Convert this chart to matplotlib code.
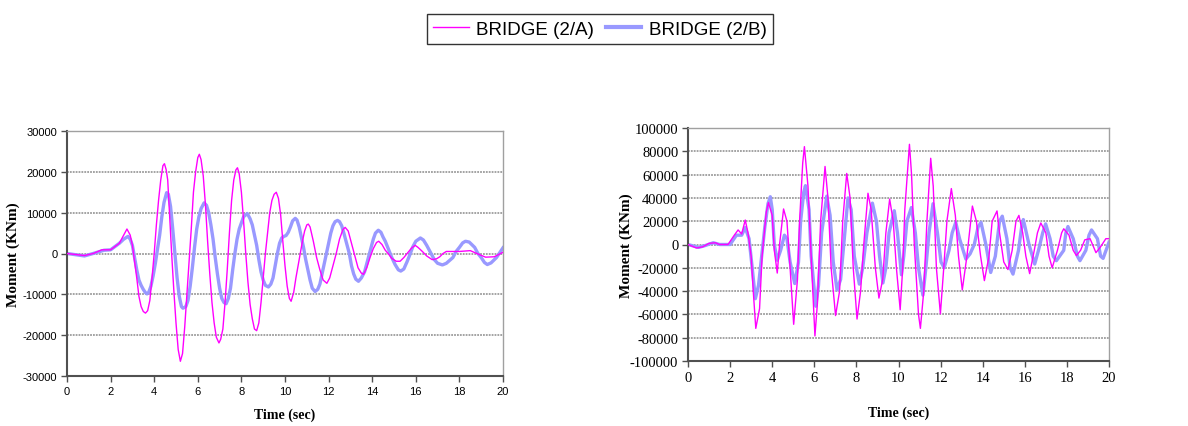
import matplotlib
matplotlib.use('Agg')
import matplotlib.pyplot as plt

plt.rcParams['axes.unicode_minus'] = False

# ---- left chart: moment history, bridge 2/A and 2/B ----
t_a1 = [0, 0.8, 1.2, 1.6, 2.0, 2.4, 2.6, 2.75, 2.9, 3.0, 3.1, 3.2, 3.3, 3.4, 3.5, 3.6, 3.7, 3.8,
        3.9, 4.0, 4.1, 4.2, 4.3, 4.4, 4.47, 4.55, 4.62, 4.7, 4.8, 4.9, 5.0, 5.1, 5.2, 5.3, 5.4,
        5.5, 5.6, 5.7, 5.8, 5.9, 6.0, 6.07, 6.15, 6.25, 6.35, 6.45, 6.55, 6.65, 6.75, 6.85, 6.97,
        7.05, 7.15, 7.25, 7.35, 7.45, 7.55, 7.65, 7.75, 7.82, 7.9, 8.0, 8.1, 8.2, 8.3, 8.4, 8.5,
        8.6, 8.7, 8.8, 8.9, 9.0, 9.1, 9.2, 9.3, 9.4, 9.5, 9.6, 9.7, 9.8, 9.9, 10.0, 10.1, 10.2,
        10.28, 10.4, 10.5, 10.6, 10.7, 10.8, 10.9, 11.0, 11.07, 11.15, 11.3, 11.45, 11.6, 11.75,
        11.92, 12.05, 12.2, 12.35, 12.5, 12.65, 12.76, 12.9, 13.05, 13.22, 13.35, 13.5, 13.6,
        13.75, 13.9, 14.05, 14.2, 14.3, 14.45, 14.6, 14.73, 14.9, 15.1, 15.28, 15.45, 15.6, 15.8,
        15.97, 16.1, 16.3, 16.5, 16.75, 16.95, 17.1, 17.25, 17.4, 18.0, 18.5, 18.8, 19.2, 19.6,
        20.0]
m_a1 = [0, -500, 0, 900, 900, 2500, 4500, 6000, 4500, 2000, -2000, -6000, -10500, -13000, -14200,
        -14600, -14000, -11500, -6000, 0, 7000, 13000, 18000, 21500, 22000, 20500, 18000, 10000,
        0, -9000, -17000, -23500, -26400, -24500, -18000, -10000, -2000, 6000, 15000, 20000,
        23500, 24300, 23000, 19000, 12000, 3000, -5000, -12000, -17000, -20500, -21900, -21000,
        -18500, -12000, -4000, 5000, 13000, 18000, 20500, 21000, 19500, 15000, 8000, 0, -7000,
        -12500, -16000, -18500, -18900, -17000, -12000, -6000, 0, 5000, 10000, 13000, 14500,
        15000, 13500, 9500, 3000, -3000, -8000, -11000, -11700, -9500, -6000, -3000, 0, 3000,
        5500, 7000, 7200, 6500, 3000, -1000, -4000, -6500, -7300, -6000, -3000, 0, 3500, 5800,
        6400, 5500, 2500, -1000, -3500, -4800, -5100, -3500, -1000, 1200, 2700, 3000, 2200, 800,
        0, -1200, -1900, -1900, -1000, 0, 1300, 2000, 1500, 500, -600, -1500, -1300, -800, 0,
        500, 500, 700, 0, -900, -800, 300]

t_b1 = [0, 0.8, 1.2, 1.7, 2.0, 2.4, 2.6, 2.8, 2.9, 3.0, 3.1, 3.2, 3.3, 3.4, 3.5, 3.6, 3.67, 3.75,
        3.85, 3.95, 4.05, 4.15, 4.25, 4.35, 4.45, 4.57, 4.65, 4.75, 4.85, 4.95, 5.05, 5.15, 5.25,
        5.32, 5.45, 5.55, 5.65, 5.75, 5.85, 5.95, 6.05, 6.15, 6.29, 6.4, 6.5, 6.6, 6.7, 6.8, 6.9,
        7.0, 7.1, 7.2, 7.3, 7.4, 7.5, 7.6, 7.7, 7.8, 7.9, 8.0, 8.1, 8.27, 8.4, 8.5, 8.6, 8.7, 8.8,
        8.9, 9.0, 9.1, 9.24, 9.35, 9.45, 9.55, 9.65, 9.75, 9.85, 9.95, 10.05, 10.15, 10.25, 10.35,
        10.47, 10.55, 10.65, 10.75, 10.85, 10.95, 11.05, 11.15, 11.25, 11.38, 11.5, 11.6, 11.7,
        11.8, 11.9, 12.0, 12.1, 12.2, 12.3, 12.41, 12.5, 12.6, 12.7, 12.8, 12.95, 13.05, 13.15,
        13.25, 13.37, 13.5, 13.65, 13.8, 13.95, 14.05, 14.15, 14.28, 14.4, 14.5, 14.6, 14.75, 14.9,
        15.05, 15.2, 15.31, 15.45, 15.6, 15.75, 15.85, 16.0, 16.21, 16.35, 16.5, 16.65, 16.85,
        17.0, 17.22, 17.4, 17.55, 17.7, 17.85, 18.0, 18.15, 18.28, 18.45, 18.6, 18.7, 18.85, 19.0,
        19.15, 19.28, 19.45, 19.6, 19.7, 19.85, 20.0]
m_b1 = [0, -600, 0, 800, 900, 2500, 3500, 4200, 3500, 2000, -1000, -4000, -6500, -7800, -8800,
        -9600, -9900, -9500, -8000, -5500, -2500, 1000, 4500, 9000, 12500, 14900, 14500, 11500,
        6000, 0, -6000, -10500, -13000, -13400, -13000, -11500, -8000, -3500, 1500, 6000, 9000,
        11000, 12400, 11800, 10000, 7000, 3500, -1000, -5000, -8500, -11000, -12000, -12300,
        -11000, -8500, -4000, 0, 3500, 6000, 7500, 9000, 9800, 8500, 7000, 4500, 2000, -1500,
        -4500, -6500, -7800, -8200, -7500, -6000, -3000, 0, 2500, 3800, 4200, 4400, 5200, 6500,
        8000, 8600, 8200, 6500, 4000, 1500, -1500, -4000, -6500, -8500, -9300, -8800, -7500,
        -5000, -2500, 0, 2500, 5000, 6800, 7800, 8100, 7800, 6800, 5000, 3000, 0, -3000, -5000,
        -6300, -6800, -6000, -4500, -1500, 1500, 3500, 5000, 5700, 5200, 4000, 3000, 1000, -1000,
        -2700, -4000, -4300, -3800, -2000, 0, 1500, 3000, 3800, 3300, 2000, 500, -1500, -2400,
        -2800, -2400, -1700, -1000, 500, 1500, 2600, 3000, 2800, 2000, 1500, 0, -1000, -2200,
        -2700, -2300, -1500, -1000, 200, 1400]

# ---- right chart ----
t_a2 = [0, 0.4, 0.7, 1.0, 1.3, 1.5, 1.9, 2.2, 2.38, 2.55, 2.72, 2.85, 3.0, 3.1, 3.22, 3.4, 3.52,
        3.65, 3.72, 3.82, 4.0, 4.1, 4.24, 4.35, 4.54, 4.7, 4.85, 5.02, 5.2, 5.3, 5.45, 5.53, 5.7,
        5.85, 6.03, 6.15, 6.3, 6.51, 6.65, 6.8, 7.01, 7.2, 7.35, 7.54, 7.7, 7.85, 8.03, 8.2, 8.35,
        8.55, 8.7, 8.9, 9.07, 9.25, 9.4, 9.58, 9.75, 9.9, 10.08, 10.2, 10.3, 10.52, 10.62, 10.75,
        10.95, 11.04, 11.2, 11.35, 11.53, 11.65, 11.8, 11.99, 12.15, 12.3, 12.51, 12.7, 12.85,
        13.03, 13.25, 13.51, 13.7, 13.9, 14.08, 14.3, 14.45, 14.68, 14.8, 15.0, 15.2, 15.4, 15.58,
        15.72, 15.9, 16.05, 16.23, 16.45, 16.6, 16.76, 17.0, 17.15, 17.3, 17.55, 17.75, 17.85,
        18.1, 18.3, 18.45, 18.65, 18.85, 19.1, 19.38, 19.6, 19.85, 20.0]
m_a2 = [0, -3000, -2000, 1000, 1500, 0, 0, 8000, 12500, 9000, 21000, 10000, -10000, -40000, -72000,
        -55000, -10000, 15000, 28000, 36000, 25000, -5000, -24500, 0, 30500, 20000, -20000, -68500,
        -30000, 20000, 70000, 84000, 50000, -10000, -78500, -50000, 20000, 67000, 40000, -20000,
        -61000, -40000, 20000, 61000, 40000, -20000, -64000, -40000, 0, 44000, 30000, -20000,
        -46000, -30000, 10000, 39000, 20000, -20000, -56000, -20000, 30000, 86000, 60000, 0, -60000,
        -72000, -40000, 20000, 74000, 50000, -20000, -59500, -20000, 20000, 48000, 25000, -10000,
        -39000, -10000, 33000, 20000, -10000, -31000, -10000, 20000, 28800, 10000, -15000, -21500,
        -5000, 20000, 25000, 10000, -10000, -25000, -5000, 10000, 18500, 10000, -10000, -20000,
        -5000, 10000, 13500, 8000, -5000, -9500, -5000, 4000, 5000, -7000, -2000, 5000, 5000]

t_b2 = [0, 0.5, 0.8, 1.2, 1.5, 2.0, 2.3, 2.55, 2.72, 2.9, 3.05, 3.2, 3.35, 3.5, 3.65, 3.8, 3.91,
        4.0, 4.1, 4.24, 4.4, 4.58, 4.7, 4.85, 5.07, 5.25, 5.35, 5.5, 5.58, 5.75, 5.85, 6.07, 6.2,
        6.35, 6.59, 6.75, 6.9, 7.08, 7.25, 7.45, 7.6, 7.75, 7.9, 8.14, 8.3, 8.5, 8.76, 8.95, 9.1,
        9.26, 9.4, 9.55, 9.8, 9.95, 10.14, 10.25, 10.4, 10.61, 10.8, 10.95, 11.16, 11.3, 11.45,
        11.64, 11.85, 12.02, 12.17, 12.4, 12.55, 12.72, 12.9, 13.2, 13.4, 13.6, 13.78, 13.92,
        14.15, 14.38, 14.6, 14.8, 14.93, 15.15, 15.3, 15.44, 15.7, 15.85, 15.93, 16.2, 16.47,
        16.65, 16.85, 16.99, 17.2, 17.35, 17.5, 17.85, 17.95, 18.05, 18.3, 18.5, 18.62, 18.9,
        19.05, 19.17, 19.45, 19.6, 19.72, 20.0]
m_b2 = [0, -2500, -1000, 1500, 0, 0, 8000, 8000, 14500, 5000, -20000, -46500, -35000, -10000,
        15000, 35000, 41000, 30000, 0, -13500, -5000, 8000, 5000, -15000, -33500, -15000, 20000,
        45000, 50500, 30000, -10000, -53000, -35000, 10000, 41500, 25000, -15000, -39000, -30000,
        10000, 40000, 30000, -10000, -34000, -20000, 10000, 35500, 20000, -10000, -33000, -20000,
        10000, 29000, 10000, -26000, -10000, 20000, 31700, 10000, -20000, -43500, -20000, 10000,
        35000, 10000, -15000, -20000, -5000, 10000, 19000, 5000, -12500, -8000, 0, 15000, 19000,
        0, -24000, -10000, 20000, 24300, 5000, -20000, -25400, -5000, 15000, 21400, 0, -16800,
        -5000, 10000, 17700, 5000, -10000, -13900, -5000, 10000, 15400, 5000, -10000, -13900,
        -5000, 8000, 12500, 5000, -10000, -11900, 2000]

x_ticks = list(range(0, 21, 2))
y_ticks_left = [-30000, -20000, -10000, 0, 10000, 20000, 30000]
y_ticks_right = list(range(-100000, 100001, 20000))

MAGENTA = '#ff00ff'
BLUE = '#9999ff'

W, H = 1188, 427
fig = plt.figure(figsize=(W / 100, H / 100), dpi=100)
fig.patch.set_facecolor('white')


def box(l, t, r, b):
    return [l / W, 1 - b / H, (r - l) / W, (b - t) / H]


def style_ax(ax, yticks, tick_family, tick_size):
    ax.set_xlim(0, 20)
    ax.set_ylim(yticks[0], yticks[-1])
    ax.set_xticks(x_ticks)
    ax.set_yticks(yticks)
    ax.grid(axis='y', color='#9c9c9c', linestyle=(0, (1, 0.6)), linewidth=1.3)
    ax.set_axisbelow(True)
    for s in ['top', 'right']:
        ax.spines[s].set_color('#a0a0a0')
        ax.spines[s].set_linewidth(1.0)
    for s in ['left', 'bottom']:
        ax.spines[s].set_color('#505050')
        ax.spines[s].set_linewidth(1.5)
    ax.tick_params(direction='out', length=4, width=1, color='#505050', pad=3)
    for lab in ax.get_xticklabels() + ax.get_yticklabels():
        lab.set_family(tick_family)
        lab.set_fontsize(tick_size)


# left
ax1 = fig.add_axes(box(67, 132, 503, 377))
l1, = ax1.plot(t_a1, m_a1, color=MAGENTA, lw=1.0, zorder=3)
l2, = ax1.plot(t_b1, m_b1, color=BLUE, lw=2.4, zorder=2)
style_ax(ax1, y_ticks_left, 'Liberation Sans', 8)
ax1.set_xlabel('Time (sec)', family='Liberation Serif', fontweight='bold', fontsize=10)
ax1.set_ylabel('Moment (KNm)', family='Liberation Serif', fontweight='bold', fontsize=11)
ax1.yaxis.set_label_coords(-0.107, 0.5)
ax1.xaxis.set_label_coords(0.5, -0.13)

# right
ax2 = fig.add_axes(box(688, 129, 1109, 362))
ax2.plot(t_a2, m_a2, color=MAGENTA, lw=1.0, zorder=3)
ax2.plot(t_b2, m_b2, color=BLUE, lw=2.4, zorder=2)
style_ax(ax2, y_ticks_right, 'Liberation Serif', 10.5)
ax2.set_xlabel('Time (sec)', family='Liberation Serif', fontweight='bold', fontsize=10)
ax2.set_ylabel('Moment (KNm)', family='Liberation Serif', fontweight='bold', fontsize=11)
ax2.yaxis.set_label_coords(-0.13, 0.5)
ax2.xaxis.set_label_coords(0.5, -0.19)

# legend on top
leg = fig.legend([l1, l2], ['BRIDGE (2/A)', 'BRIDGE (2/B)'], loc='center',
                 bbox_to_anchor=(600 / W, 1 - 30 / H), ncol=2, frameon=True, fancybox=False,
                 prop={'family': 'Liberation Sans', 'size': 13.5}, handlelength=1.9,
                 handletextpad=0.4, columnspacing=0.6, borderpad=0.35, borderaxespad=0)
leg.get_frame().set_edgecolor('black')
leg.get_frame().set_linewidth(1.0)
leg.legend_handles[1].set_linewidth(3)

fig.savefig('out.png', dpi=100)
